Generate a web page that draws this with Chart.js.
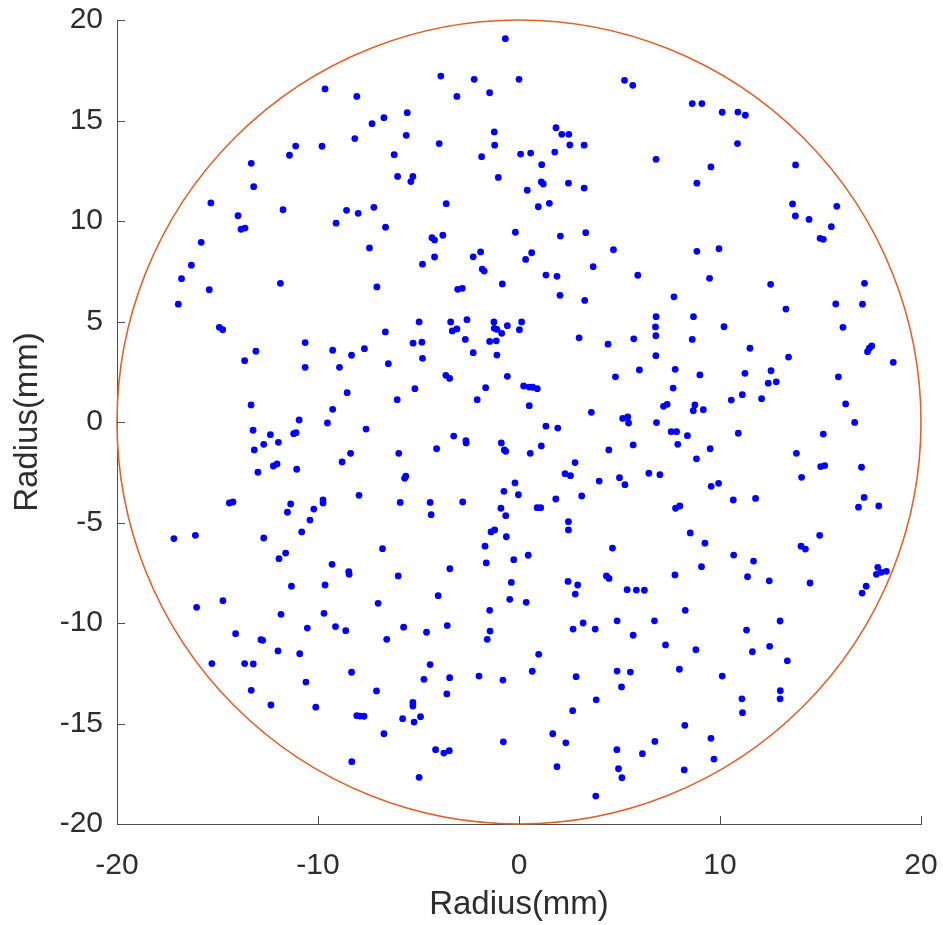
<!DOCTYPE html>
<html>
<head>
<meta charset="utf-8">
<script src="https://cdn.jsdelivr.net/npm/chart.js@4"></script>
<style>
  html, body { margin: 0; padding: 0; background: #fff; }
</style>
</head>
<body>
<canvas id="chart" width="943" height="925"></canvas>
<script>
// spot positions (mm)
const spotX = [
  // upper left
  -9.65, -8.07, -6.72, -7.31, -8.17, -9.80, -11.11, -11.42, -13.32, -13.2, -15.33, -13.98, -13.83, -13.63,
  -11.74, -9.10, -8.58, -8.0, -7.22, -6.64, -7.44, -15.81, -16.30, -16.79, -15.41, -11.87, -7.07,
  // middle left
  -16.95, -14.91, -14.74, -6.65, -10.64, -9.27, -8.33, -7.69, -13.09, -13.65, -10.64, -8.93, -6.5, -8.55,
  -13.33, -9.27, -10.94, -9.53, -7.61, -13.23, -12.37, -11.21, -11.09, -12.70, -11.97, -13.17, -8.38, -8.80,
  -12.22, -12.04, -12.99, -11.06, -7.96, -14.41, -14.23, -11.36, -11.52, -9.75, -9.75, -10.21, -10.40, -10.81,
  -17.17, -16.10, -12.70, -11.61, -11.94, -6.79,
  // lower left
  -9.30, -8.47, -8.45, -11.32, -9.65, -14.73, -16.04, -7.01, -11.84, -9.70, -10.53, -9.13, -8.62, -14.10,
  -12.84, -12.75, -6.58, -11.99, -10.91, -15.28, -13.65, -13.22, -8.33, -10.60, -13.32, -7.09, -12.34, -10.11,
  -8.07, -7.91, -7.71, -6.72, -8.32,
  // lower middle
  -6.01, -3.44, -1.63, -0.26, -4.02, -0.38, -0.46, 0.36, -1.46, 2.44, 2.92, 2.80, 4.35, 4.48, 5.38, 5.84, 6.24,
  -5.74, -4.60, -3.57, -1.44, -1.58, 0.98, 0.66, 2.69, 3.19, 3.79, 4.88, 5.68, 6.74, -4.42, -4.73, -3.45,
  -1.99, -0.80, -3.59, 2.84, 4.88, 5.54, 5.10, 3.84, 2.67, -5.28, -5.28, -5.79, -5.22, -4.90, -4.15, -3.74,
  -3.47, -0.78, -4.97, 1.68, 2.33, 1.89, 3.82, 4.87, 4.95, 5.12, 6.14, 6.76,
  // lower right
  7.76, 9.08, 11.67, 11.37, 12.45, 14.48, 17.85, 17.78, 18.03, 18.28, 17.27, 17.07, 8.27, 12.99, 11.32, 7.29,
  8.80, 11.61, 12.47, 13.35, 7.98, 10.11, 13.0, 12.99, 11.09, 11.12, 8.25, 9.55, 9.70, 8.22,
  // upper middle
  -0.68, -3.89, -2.23, 0.0, -3.09, -1.46, 5.25, 5.66, -5.56, -5.61, -3.97, -6.21, -1.23, -1.21, -1.86, 0.08,
  0.58, 1.84, 2.13, 2.48, 1.78, 2.53, 3.24, 6.82, 1.13, -6.04, -5.28, -5.38, -1.03, 0.41, 1.11, 1.21, 2.46,
  3.24, -3.62, 0.96, 1.51, -4.33, -4.20, -3.79, -0.18, 2.06, 3.32, 4.70, -4.80, -4.20, -2.28, -1.91, -1.83,
  -1.73, 0.33, 0.63, 3.69, 1.34, 1.89, 5.91, -0.83, -2.82, -3.05,
  // centre
  2.04, 3.27, -4.97, -3.40, -3.32, -3.09, -2.59, -1.25, -1.23, -1.10, -0.86, -0.58, 0.13, 0.02, -5.27, -4.83,
  -2.67, -1.46, -1.13, -4.80, -2.28, -1.10, -3.64, -3.45, -5.18, -6.06, -1.66, -2.08, -0.58, 0.23, 0.51, 0.68,
  0.91, 0.51, 2.99, 4.43, 5.71, 6.82, 6.79, 6.81, 6.81, 5.99, 4.80, 3.60, 5.16, 5.41, 5.45, 6.84, 1.34, 1.93,
  -3.25, -2.64, -2.63, -4.10, -5.98, -0.88, -0.73, -0.66, 0.56, 1.11, 4.47, 5.68, 2.79, 2.29, 2.56, -5.63,
  -5.69, -0.20, -0.75, -0.03, 3.99, 5.0, 5.27, 6.46, 3.12, 1.83, -5.91, -4.42, -4.37, -2.80, -0.90, -0.66,
  0.90, 1.08, 2.46, 2.46, -1.39, -1.21, -0.63, -1.69, 0.46, 4.65,
  // middle right
  7.71, 8.68, 10.20, 8.62, 13.28, 15.76, 17.09, 16.12, 17.34, 17.43, 17.55, 18.62, 11.49, 13.41, 7.77, 9.0,
  11.24, 12.54, 12.40, 12.80, 15.89, 7.67, 11.11, 10.56, 12.07, 7.19, 7.37, 8.75, 8.67, 9.17, 16.25, 16.70,
  7.57, 7.84, 8.38, 10.91, 15.14, 7.90, 9.51, 8.83, 13.80, 15.01, 15.21, 17.04, 7.01, 14.06, 9.56, 9.93,
  10.66, 11.77, 7.79, 8.0, 17.17, 16.89, 17.90, 8.52, 9.25, 14.96, 14.03, 14.25, 10.68,
  // upper right
  8.62, 9.10, 10.11, 10.89, 11.26, 10.87, 9.55, 8.85, 13.76, 13.61, 15.81, 13.75, 14.43, 15.54, 14.98, 15.14,
  8.85, 9.95, 9.48, 12.52, 17.19
];
const spotY = [
  // upper left
  16.57, 16.2, 15.14, 14.84, 14.1, 13.72, 13.73, 13.27, 12.87, 11.71, 10.9, 10.26, 9.59, 9.65,
  10.56, 9.89, 10.53, 10.38, 10.68, 9.69, 8.66, 8.94, 7.80, 7.13, 6.58, 6.90, 6.72,
  // middle left
  5.86, 4.71, 4.59, 4.48, 3.95, 3.57, 3.32, 3.65, 3.52, 3.05, 2.72, 2.72, 2.9, 1.46,
  0.85, 0.63, 0.10, -0.05, -0.35, -0.41, -0.63, -0.58, -0.53, -1.11, -1.01, -1.39, -1.56, -1.99,
  -2.19, -2.09, -2.50, -2.35, -3.65, -4.03, -3.98, -4.08, -4.49, -3.87, -4.03, -4.33, -4.88, -5.47,
  -5.80, -5.64, -5.77, -6.52, -6.80, -6.30,
  // lower left
  -7.08, -7.45, -7.58, -8.17, -8.11, -8.89, -9.22, -9.02, -9.57, -9.52, -10.25, -10.18, -10.38, -10.53,
  -10.83, -10.86, -10.81, -11.39, -11.53, -12.02, -12.02, -12.04, -12.45, -12.94, -13.35, -13.38, -14.08, -14.19,
  -14.61, -14.63, -14.64, -15.51, -16.90,
  // lower middle
  -7.66, -7.30, -7.01, -6.85, -8.64, -7.98, -8.82, -8.97, -9.37, -7.93, -8.11, -8.56, -7.66, -7.78, -8.34, -8.36, -8.37,
  -10.21, -10.46, -10.13, -10.40, -10.81, -11.56, -12.40, -10.30, -10.0, -10.30, -9.89, -10.61, -9.89, -12.07, -12.80, -12.72,
  -12.64, -12.84, -13.53, -12.67, -12.39, -12.44, -13.18, -13.82, -14.36, -13.95, -14.13, -14.76, -14.93, -14.66, -16.30, -16.47,
  -16.35, -15.91, -17.68, -15.51, -15.96, -17.15, -18.61, -16.30, -17.25, -17.70, -16.50, -15.89,
  // lower right
  -7.61, -7.20, -6.92, -7.70, -7.90, -8.01, -7.23, -7.58, -7.48, -7.43, -8.17, -8.51, -9.37, -9.90, -10.35, -11.09,
  -11.33, -11.43, -11.16, -11.88, -12.30, -12.64, -13.37, -13.77, -13.77, -14.46, -15.09, -15.74, -16.77, -17.31,
  // upper middle
  19.07, 17.21, 17.05, 17.05, 16.20, 16.38, 17.0, 16.75, 15.39, 14.26, 13.85, 13.30, 14.43, 13.77, 13.20, 13.33,
  13.38, 14.64, 14.31, 14.31, 13.43, 13.78, 13.77, 13.07, 12.80, 12.22, 12.22, 11.96, 12.17, 11.53, 11.94, 11.84, 11.88,
  11.64, 10.86, 10.71, 10.88, 9.17, 9.05, 9.29, 9.44, 9.25, 9.42, 8.57, 7.85, 8.21, 8.22, 8.46, 7.61,
  7.51, 8.09, 8.42, 7.73, 7.31, 7.25, 7.30, 6.87, 6.65, 6.60,
  // centre
  6.30, 6.05, 4.98, 4.98, 4.53, 4.63, 5.09, 4.98, 4.66, 4.61, 4.41, 4.79, 4.98, 4.59, 3.92, 3.97,
  4.11, 4.01, 4.04, 3.17, 3.45, 3.33, 2.32, 2.17, 1.66, 1.11, 1.71, 1.11, 2.27, 1.79, 1.74, 1.73,
  1.66, 0.81, 4.19, 3.87, 4.14, 5.24, 4.73, 4.29, 3.30, 2.59, 2.25, 0.48, 0.18, 0.25, -0.05, -0.03, -0.21, -0.30,
  -0.70, -0.93, -1.04, -1.33, -1.56, -1.04, -1.39, -1.46, -1.56, -1.19, -1.39, -1.14, -2.02, -2.57, -2.67, -2.70,
  -2.80, -3.03, -3.45, -3.62, -2.94, -2.77, -3.12, -2.55, -3.68, -3.83, -4.0, -4.0, -4.61, -3.98, -4.29, -4.66,
  -4.26, -4.26, -4.96, -5.37, -5.47, -5.37, -5.71, -6.18, -6.63, -6.27,
  // middle right
  6.23, 5.24, 4.74, 4.11, 5.62, 5.87, 5.86, 4.71, 3.50, 3.67, 3.78, 2.97, 3.67, 3.23, 2.62, 2.34,
  2.42, 2.55, 1.93, 2.0, 2.25, 1.69, 1.36, 1.09, 1.16, 0.78, 0.88, 0.85, 0.56, 0.61, 0.90, -0.02,
  -0.48, -0.48, -0.68, -0.56, -0.60, -1.11, -1.33, -1.83, -1.56, -2.22, -2.17, -2.25, -2.62, -2.75, -3.20, -3.05,
  -3.88, -3.80, -4.29, -4.18, -3.75, -4.24, -4.18, -5.52, -6.03, -5.64, -6.18, -6.32, -6.62,
  // upper right
  15.84, 15.84, 15.41, 15.42, 15.26, 13.85, 12.69, 11.88, 12.79, 10.85, 10.73, 10.25, 10.08, 9.72, 9.14, 9.09,
  8.49, 8.62, 7.15, 6.85, 6.90
];

const circleRadius = 20;
const xTicks = [-20, -10, 0, 10, 20];
const yTicks = [-20, -15, -10, -5, 0, 5, 10, 15, 20];

const spots = spotX.map((x, i) => ({ x: x, y: spotY[i] }));

const fontFamily = "'Liberation Sans', Arial, Helvetica, sans-serif";
const textColor = '#2e2e2e';
const axisColor = '#4d4d4d';

// outline circle + inward tick marks, drawn through the scales
const extras = {
  id: 'extras',
  afterDatasetsDraw(chart) {
    const { ctx, chartArea, scales: { x, y } } = chart;
    const cx = x.getPixelForValue(0), cy = y.getPixelForValue(0);
    const rx = x.getPixelForValue(circleRadius) - cx;
    const ry = cy - y.getPixelForValue(circleRadius);
    ctx.save();
    ctx.strokeStyle = '#e0622a';
    ctx.lineWidth = 1.6;
    ctx.beginPath();
    ctx.ellipse(cx, cy, rx, ry, 0, 0, Math.PI * 2);
    ctx.stroke();

    ctx.strokeStyle = axisColor;
    ctx.lineWidth = 1;
    xTicks.forEach(v => {
      const px = Math.round(x.getPixelForValue(v)) + 0.5;
      ctx.beginPath();
      ctx.moveTo(px, chartArea.bottom);
      ctx.lineTo(px, chartArea.bottom - 8);
      ctx.stroke();
    });
    yTicks.forEach(v => {
      const py = Math.round(y.getPixelForValue(v)) + 0.5;
      ctx.beginPath();
      ctx.moveTo(chartArea.left, py);
      ctx.lineTo(chartArea.left + 8, py);
      ctx.stroke();
    });
    ctx.restore();
  }
};

new Chart(document.getElementById('chart'), {
  type: 'scatter',
  data: {
    datasets: [{
      data: spots,
      backgroundColor: '#0000ff',
      borderColor: '#0000ff',
      borderWidth: 0,
      pointRadius: 3.4,
      pointStyle: 'circle'
    }]
  },
  options: {
    responsive: false,
    animation: false,
    devicePixelRatio: 1,
    layout: { padding: { top: 20, right: 22, left: 8, bottom: 0 } },
    plugins: { legend: { display: false }, tooltip: { enabled: false } },
    scales: {
      x: {
        type: 'linear',
        min: -20, max: 20,
        afterBuildTicks: s => { s.ticks = xTicks.map(v => ({ value: v })); },
        afterFit: s => { s.height = 101; s.paddingLeft = 0; s.paddingRight = 0; },
        ticks: { color: textColor, font: { family: fontFamily, size: 30 }, padding: 16, maxRotation: 0 },
        grid: { display: false },
        border: { display: true, color: axisColor, width: 1 },
        title: { display: true, text: 'Radius(mm)', color: textColor, font: { family: fontFamily, size: 33 }, padding: { top: 2, bottom: 0 } }
      },
      y: {
        type: 'linear',
        min: -20, max: 20,
        afterBuildTicks: s => { s.ticks = yTicks.map(v => ({ value: v })); },
        afterFit: s => { s.width = 109; s.paddingTop = 0; s.paddingBottom = 0; },
        ticks: { color: textColor, font: { family: fontFamily, size: 30 }, padding: 6 },
        grid: { display: false },
        border: { display: true, color: axisColor, width: 1 },
        title: { display: true, text: 'Radius(mm)', color: textColor, font: { family: fontFamily, size: 33 }, padding: { top: 0, bottom: 4 } }
      }
    }
  },
  plugins: [extras]
});
</script>
</body>
</html>
